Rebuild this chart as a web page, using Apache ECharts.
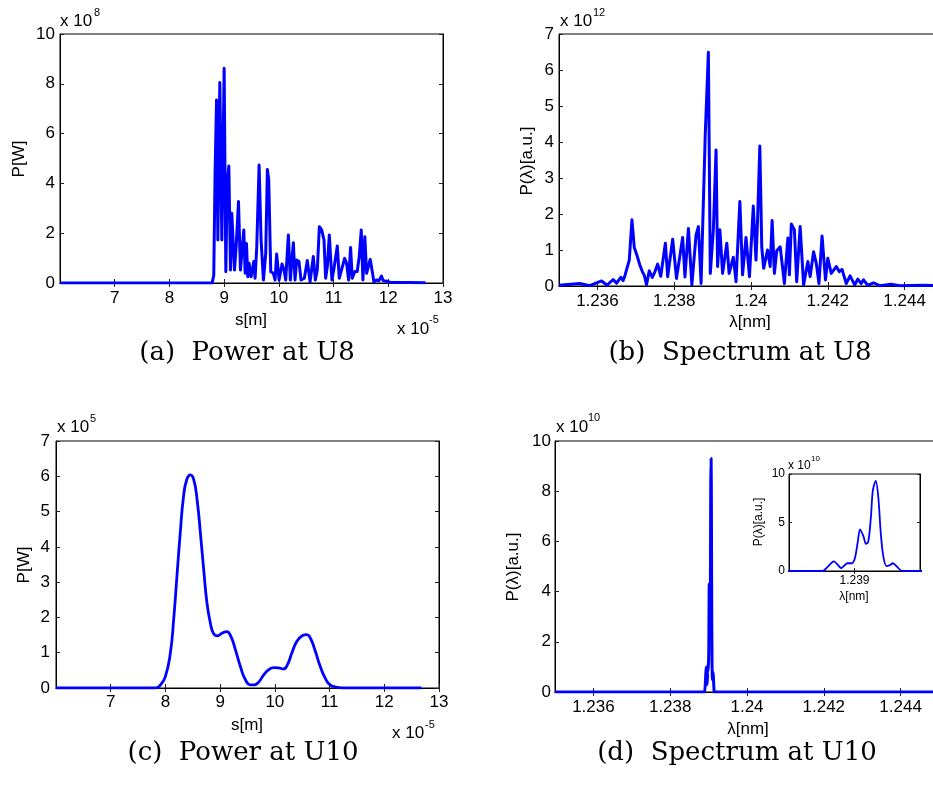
<!DOCTYPE html>
<html>
<head>
<meta charset="utf-8">
<script src="https://cdn.jsdelivr.net/npm/echarts@6/dist/echarts.min.js"></script>
<style>
html,body{margin:0;padding:0;background:#fff;}
#c{width:933px;height:789px;}
</style>
</head>
<body>
<div id="c"></div>
<script>
// ---------- DATA ----------
// (a) Power at U8: s in units of 1e-5 m, P in units of 1e8 W
const sA = [6.0,8.78,8.81,8.835,8.861,8.885,8.921,8.958,9.0,9.031,9.055,9.086,9.116,9.14,9.165,9.189,9.22,9.262,9.298,9.323,9.359,9.384,9.408,9.432,9.456,9.493,9.542,9.566,9.596,9.639,9.675,9.718,9.76,9.79,9.815,9.852,9.9,9.93,9.96,10.004,10.058,10.095,10.125,10.174,10.21,10.265,10.295,10.326,10.368,10.405,10.436,10.466,10.52,10.57,10.63,10.667,10.703,10.74,10.782,10.825,10.855,10.886,10.922,10.97,11.013,11.068,11.104,11.153,11.202,11.238,11.275,11.311,11.341,11.39,11.432,11.469,11.506,11.536,11.572,11.603,11.633,11.67,11.712,11.737,11.785,11.828,11.876,11.907,11.98,12.03,12.68];
const pA = [0,0,0.3,4.5,7.35,1.73,8.05,1.73,8.62,0.45,4.0,4.7,0.52,2.8,2.86,0.52,1.46,3.27,0.52,1.19,2.13,0.39,1.59,0.25,0.79,0.25,0.86,0.19,1.46,4.74,1.73,0.12,1.19,4.56,4.14,0.45,0.39,0.12,1.16,0.12,0.76,0.52,0.12,1.93,0.12,1.62,0.12,0.92,0.86,0.12,0.12,0.19,0.9,0.05,1.06,0.12,0.52,2.26,2.13,1.73,0.19,0.66,1.93,0.12,0.66,1.49,0.19,0.59,0.99,0.79,0.12,1.43,0.19,0.46,0.46,1.06,2.13,0.12,1.86,0.39,0.39,0.95,0.39,0.05,0.12,0.09,0.28,0.09,0.07,0.03,0.01];

// (b) Spectrum at U8: lambda in nm, P in units of 1e12 a.u.
const lamB = [1.2350,1.23554,1.23580,1.23611,1.23625,1.23641,1.23650,1.23661,1.23667,1.23672,1.23683,1.23690,1.23696,1.23704,1.23710,1.23717,1.23722,1.23728,1.23735,1.23743,1.23750,1.23757,1.23765,1.23777,1.23783,1.23796,1.23806,1.23822,1.23828,1.23837,1.23846,1.23857,1.23863,1.23870,1.23881,1.23889,1.23894,1.23902,1.23909,1.23913,1.23919,1.23926,1.23937,1.23943,1.23954,1.23961,1.23971,1.23978,1.23987,1.23996,1.24006,1.24013,1.24017,1.24023,1.24028,1.24033,1.24043,1.24050,1.24055,1.24061,1.24067,1.24076,1.24087,1.24096,1.24100,1.24105,1.24113,1.24119,1.24128,1.24137,1.24148,1.24154,1.24163,1.24170,1.24177,1.24185,1.24194,1.24200,1.24209,1.24222,1.24230,1.24237,1.24248,1.24258,1.24270,1.24278,1.24287,1.24293,1.24304,1.24319,1.24335,1.24365,1.24387,1.24450,1.24500];
const pB = [0.02,0.07,0.01,0.14,0.02,0.18,0.08,0.24,0.15,0.3,0.72,1.84,1.07,0.82,0.6,0.4,0.3,0.04,0.42,0.24,0.4,0.61,0.27,1.19,0.26,1.30,0.21,1.35,0.25,1.6,0.03,1.42,1.65,0.07,4.25,6.49,0.35,1.56,3.78,0.54,1.56,0.35,1.19,0.35,0.80,0.12,2.35,0.31,1.35,0.26,2.22,0.72,1.79,3.89,1.09,0.49,1.00,0.54,1.82,0.35,0.98,1.09,0.07,1.33,0.31,1.72,1.56,0.12,1.65,0.03,0.68,0.26,0.95,0.63,0.07,1.39,0.17,0.77,0.35,0.54,0.40,0.46,0.07,0.28,0.03,0.19,0.07,0.17,0.02,0.09,0.01,0.05,0.01,0.02,0.01];

// (c) Power at U10: s in units of 1e-5 m, P in units of 1e5 W
const sC = [6.0,7.82,7.91,8.0,8.09,8.15,8.21,8.27,8.33,8.39,8.456,8.52,8.58,8.64,8.70,8.76,8.82,8.88,8.95,9.03,9.12,9.20,9.28,9.37,9.46,9.55,9.625,9.70,9.80,9.89,9.98,10.07,10.16,10.23,10.31,10.40,10.50,10.58,10.65,10.74,10.83,10.92,11.01,11.14,11.26,12.68];
const pC = [0,0,0.09,0.33,0.99,1.93,3.16,4.38,5.42,5.91,6.04,5.89,5.32,4.38,3.34,2.40,1.85,1.54,1.48,1.55,1.60,1.45,1.08,0.61,0.24,0.09,0.09,0.16,0.38,0.52,0.58,0.57,0.54,0.66,0.99,1.32,1.48,1.51,1.41,1.04,0.61,0.28,0.09,0.02,0,0];

// (d) Spectrum at U10: lambda in nm, P in units of 1e10 a.u.
const lamD = [1.2350,1.2389,1.238905,1.23892,1.238937,1.23895,1.238959,1.23897,1.238978,1.238991,1.239001,1.23901,1.239017,1.239028,1.239035,1.239042,1.23905,1.239056,1.239065,1.239073,1.23908,1.239088,1.239098,1.239108,1.239117,1.239131,1.239144,1.23916,1.2450];
const pD = [0,0,0.02,0.5,1.0,0.6,0.3,0.6,0.8,0.8,1.3,3.0,4.3,3.5,2.8,3.0,5.5,8.3,9.3,7.5,4.0,1.5,0.5,0.6,0.8,0.4,0.02,0,0];

// tick labels
const ticksS = [7,8,9,10,11,12,13];
const ticksLam = [1.236,1.238,1.24,1.242,1.244];
const ticksYA = [0,2,4,6,8,10];
const ticksYB = [0,1,2,3,4,5,6,7];
const ticksYC = [0,1,2,3,4,5,6,7];
const ticksYD = [0,2,4,6,8,10];
const ticksInsetX = [1.239];
const ticksInsetY = [0,5,10];

// ---------- CHART ----------
const zip = (a,b) => a.map((v,i)=>[v,b[i]]);
const SANS = '"Liberation Sans", Arial, sans-serif';
const grids = [
  {left:60, top:34, width:383, height:249},
  {left:559, top:34, width:384, height:252},
  {left:56, top:441, width:383, height:247},
  {left:555, top:441, width:384, height:251},
  {left:789, top:474, width:131, height:97, backgroundColor:'#fff'}
].map(g => Object.assign({show:true, borderColor:'#000', borderWidth:1, outerBoundsMode:'none', containLabel:false, z:g.backgroundColor?5:2}, g));

const xAxes = [], yAxes = [];
function addAxes(gi, xmin, xmax, xt, ymin, ymax, yt, fs, xm, ym, tl, fmt){
  const z = gi===4 ? 6 : 2;
  const lineS = {show:true, lineStyle:{color:'#000', width:1}};
  const tickS = {show:true, inside:true, length:tl, lineStyle:{color:'#222', width:1}};
  xAxes.push({type:'value', gridIndex:gi, position:'bottom', min:xmin, max:xmax, z:z,
    axisLine:lineS, splitLine:{show:false},
    axisTick:Object.assign({customValues:xt}, tickS),
    axisLabel:{customValues:xt, color:'#000', fontSize:fs, fontFamily:SANS, margin:xm, formatter:fmt}});
  xAxes.push({type:'value', gridIndex:gi, position:'top', min:xmin, max:xmax, z:z,
    axisLine:lineS, splitLine:{show:false},
    axisTick:Object.assign({customValues:xt}, tickS), axisLabel:{show:false}});
  yAxes.push({type:'value', gridIndex:gi, position:'left', min:ymin, max:ymax, z:z,
    axisLine:lineS, splitLine:{show:false},
    axisTick:Object.assign({customValues:yt}, tickS),
    axisLabel:{customValues:yt, color:'#000', fontSize:fs, fontFamily:SANS, margin:ym}});
  yAxes.push({type:'value', gridIndex:gi, position:'right', min:ymin, max:ymax, z:z,
    axisLine:lineS, splitLine:{show:false},
    axisTick:Object.assign({customValues:yt}, tickS), axisLabel:{show:false}});
}
const fmtInt = v => String(Math.round(v));
const fmtLam = v => String(+v.toFixed(4));
addAxes(0, 6, 13, ticksS, 0, 10, ticksYA, 17, 7, 5, 4, fmtInt);
addAxes(1, 1.235, 1.245, ticksLam, 0, 7, ticksYB, 17, 7, 5, 4, fmtLam);
addAxes(2, 6, 13, ticksS, 0, 7, ticksYC, 17, 6, 6, 4, fmtInt);
addAxes(3, 1.235, 1.245, ticksLam, 0, 10, ticksYD, 17, 7, 4, 4, fmtLam);
addAxes(4, 1.2388, 1.2392, ticksInsetX, 0, 10, ticksInsetY, 12, 4, 4, 3, fmtLam);

function line(gi, data, w, smooth){
  return {type:'line', xAxisIndex:gi*2, yAxisIndex:gi*2, data:data, showSymbol:false, symbol:'none',
    smooth:smooth, lineStyle:{color:'#0000ff', width:w, join:'round'}, z: gi===4?7:3, clip:true, animation:false};
}

function txt(x, y, s, size, opts){
  opts = opts || {};
  const family = opts.family || SANS;
  const st = {text:s, font: size+'px '+family, fill:'#000',
    textAlign: opts.align||'center', align: opts.align||'center',
    textVerticalAlign:'middle', verticalAlign:'middle'};
  const el = {type:'text', x:x, y:y, style:st, z:100};
  if (opts.rot) el.rotation = opts.rot;
  return el;
}
const R = Math.PI/2;
const SERIF = '"DejaVu Serif", serif';
const graphics = [
  // (a)
  txt(60, 21.5, 'x 10', 17, {align:'left'}), txt(94, 13, '8', 11, {align:'left'}),
  txt(251, 320, 's[m]', 17), txt(19, 159, 'P[W]', 17, {rot:R}),
  txt(397, 329, 'x 10', 17, {align:'left'}), txt(429, 319.5, '-5', 11, {align:'left'}),
  // (b)
  txt(560, 21.5, 'x 10', 17, {align:'left'}), txt(593, 13, '12', 11, {align:'left'}),
  txt(750, 322, 'λ[nm]', 17), txt(527, 161, 'P(λ)[a.u.]', 17, {rot:R}),
  // (c)
  txt(57, 427.5, 'x 10', 17, {align:'left'}), txt(90, 419, '5', 11, {align:'left'}),
  txt(247, 725, 's[m]', 17), txt(24, 565, 'P[W]', 17, {rot:R}),
  txt(392, 733, 'x 10', 17, {align:'left'}), txt(425, 724.5, '-5', 11, {align:'left'}),
  // (d)
  txt(556, 427.5, 'x 10', 17, {align:'left'}), txt(588, 418, '10', 11, {align:'left'}),
  txt(748, 729, 'λ[nm]', 17), txt(513, 567, 'P(λ)[a.u.]', 17, {rot:R}),
  // inset
  txt(788, 466, 'x 10', 12, {align:'left'}), txt(811, 459, '10', 8, {align:'left'}),
  txt(854, 597, 'λ[nm]', 12), txt(759, 522, 'P(λ)[a.u.]', 12, {rot:R}),
  // captions
  txt(247, 353, '(a)  Power at U8', 26, {family:SERIF}),
  txt(740, 353, '(b)  Spectrum at U8', 26, {family:SERIF}),
  txt(243, 753, '(c)  Power at U10', 26, {family:SERIF}),
  txt(737, 753, '(d)  Spectrum at U10', 26, {family:SERIF})
];

const chart = echarts.init(document.getElementById('c'), null, {renderer:'canvas'});
chart.setOption({
  animation:false,
  backgroundColor:'#fff',
  grid: grids,
  xAxis: xAxes,
  yAxis: yAxes,
  series: [
    line(0, zip(sA,pA), 3, false),
    line(1, zip(lamB,pB), 3, false),
    line(2, zip(sC,pC), 2.8, true),
    line(3, zip(lamD,pD), 3, 0.3),
    line(4, zip(lamD,pD), 1.8, 0.3)
  ],
  graphic: graphics
});
</script>
</body>
</html>
